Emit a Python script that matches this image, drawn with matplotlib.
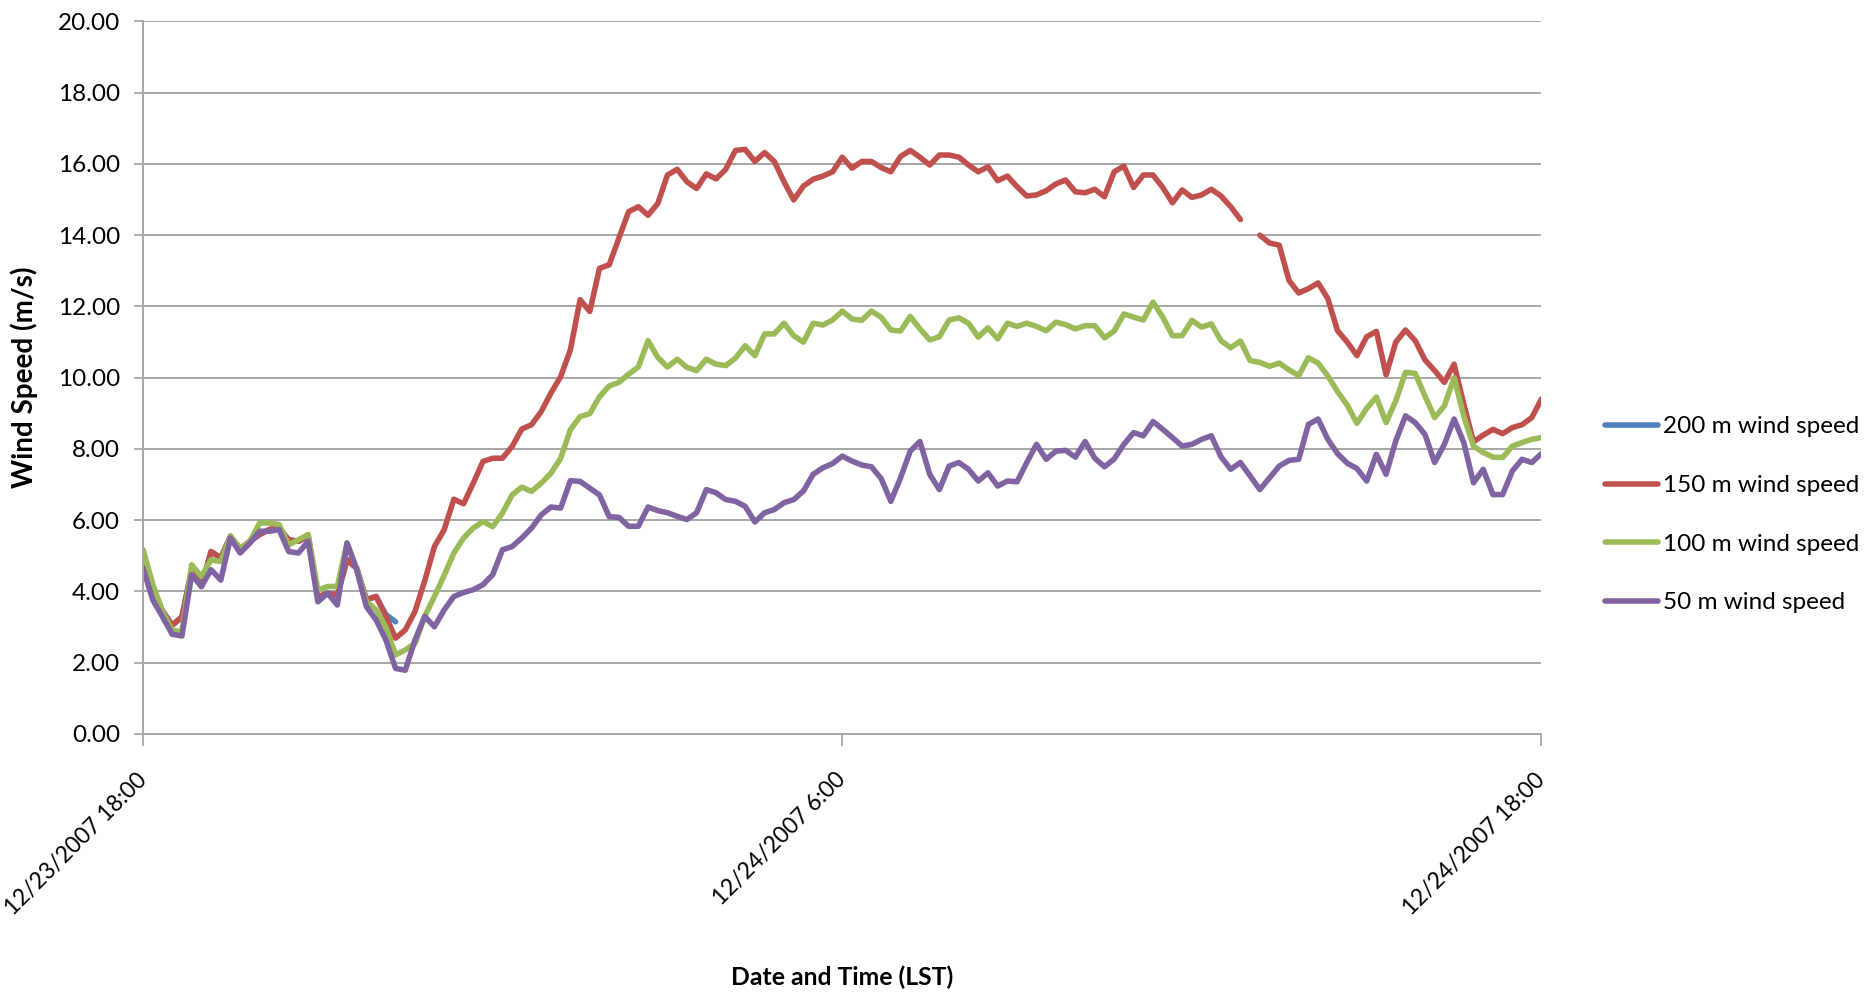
import numpy as np
import pandas as pd
import matplotlib
matplotlib.use("Agg")
import matplotlib.pyplot as plt

plt.rcParams["font.family"] = ["Lato", "DejaVu Sans"]

# 10-minute wind speeds (m/s), 12/23/2007 18:00 -> 12/24/2007 18:00 LST
times = pd.date_range("2007-12-23 18:00", "2007-12-24 18:00", freq="10min")

ws_200 = [4.85, 4.1, 3.45, 3.05, 3.29, 4.6, 4.14, 5.12, 4.94, 5.55,
          5.15, 5.41, 5.6, 5.74, 5.78, 5.45, 5.41, 5.55, 3.85, 3.95,
          3.9, 4.89, 4.65, 3.77, 3.86, 3.35, 3.15]

ws_150 = [4.85, 4.1, 3.45, 3.05, 3.29, 4.6, 4.14, 5.12, 4.94, 5.55,
          5.15, 5.41, 5.6, 5.74, 5.78, 5.45, 5.41, 5.55, 3.85, 3.95,
          3.9, 4.89, 4.65, 3.77, 3.86, 3.3, 2.69, 2.92, 3.44, 4.3,
          5.26, 5.73, 6.59, 6.46, 7.04, 7.65, 7.74, 7.74, 8.07, 8.56,
          8.68, 9.05, 9.57, 10.03, 10.78, 12.19, 11.86, 13.07, 13.17, 13.92,
          14.66, 14.8, 14.56, 14.89, 15.69, 15.85, 15.5, 15.31, 15.72, 15.58,
          15.85, 16.38, 16.41, 16.07, 16.32, 16.07, 15.5, 14.99, 15.38, 15.57,
          15.66, 15.78, 16.19, 15.88, 16.07, 16.07, 15.9, 15.78, 16.21, 16.38,
          16.19, 15.97, 16.25, 16.25, 16.19, 15.97, 15.78, 15.92, 15.53, 15.66,
          15.36, 15.1, 15.13, 15.25, 15.44, 15.55, 15.22, 15.19, 15.29, 15.08,
          15.78, 15.94, 15.34, 15.69, 15.69, 15.34, 14.91, 15.27, 15.06, 15.13,
          15.29, 15.1, 14.8, 14.44, np.nan, 14.0, 13.78, 13.72, 12.73, 12.38,
          12.5, 12.66, 12.22, 11.32, 11.0, 10.62, 11.15, 11.3, 10.08, 11.0,
          11.34, 11.04, 10.5, 10.2, 9.87, 10.38, 9.26, 8.2, 8.39, 8.55,
          8.43, 8.6, 8.68, 8.88, 9.4]

ws_100 = [5.17, 4.2, 3.43, 2.91, 2.87, 4.75, 4.42, 4.89, 4.84, 5.55,
          5.22, 5.41, 5.92, 5.92, 5.88, 5.31, 5.45, 5.6, 4.04, 4.14,
          4.14, 5.36, 4.65, 3.72, 3.48, 3.0, 2.22, 2.36, 2.54, 3.3,
          3.86, 4.45, 5.08, 5.5, 5.78, 5.96, 5.82, 6.2, 6.71, 6.93,
          6.81, 7.04, 7.32, 7.74, 8.54, 8.91, 8.99, 9.47, 9.77, 9.87,
          10.1, 10.3, 11.04, 10.57, 10.3, 10.52, 10.29, 10.2, 10.52, 10.38,
          10.34, 10.55, 10.9, 10.62, 11.23, 11.23, 11.53, 11.18, 11.0, 11.53,
          11.48, 11.62, 11.87, 11.65, 11.61, 11.87, 11.7, 11.34, 11.31, 11.72,
          11.37, 11.06, 11.15, 11.62, 11.68, 11.53, 11.14, 11.4, 11.09, 11.53,
          11.44, 11.53, 11.44, 11.32, 11.56, 11.49, 11.37, 11.46, 11.46, 11.12,
          11.31, 11.79, 11.7, 11.62, 12.12, 11.7, 11.18, 11.18, 11.61, 11.42,
          11.51, 11.04, 10.84, 11.03, 10.48, 10.43, 10.32, 10.41, 10.22, 10.06,
          10.56, 10.41, 10.05, 9.61, 9.23, 8.72, 9.14, 9.46, 8.74, 9.35,
          10.15, 10.12, 9.49, 8.88, 9.21, 10.0, 8.92, 8.08, 7.9, 7.77,
          7.76, 8.08, 8.18, 8.27, 8.32]

ws_50 = [4.65, 3.76, 3.29, 2.8, 2.75, 4.47, 4.14, 4.61, 4.32, 5.5,
         5.08, 5.36, 5.69, 5.69, 5.74, 5.12, 5.08, 5.41, 3.71, 3.95,
         3.62, 5.36, 4.6, 3.57, 3.2, 2.64, 1.84, 1.79, 2.64, 3.3,
         3.01, 3.48, 3.86, 3.97, 4.05, 4.19, 4.47, 5.17, 5.26, 5.5,
         5.78, 6.15, 6.37, 6.34, 7.11, 7.09, 6.9, 6.71, 6.1, 6.08,
         5.83, 5.83, 6.37, 6.27, 6.21, 6.11, 6.02, 6.21, 6.86, 6.77,
         6.58, 6.53, 6.39, 5.95, 6.21, 6.3, 6.49, 6.58, 6.82, 7.29,
         7.47, 7.59, 7.8, 7.66, 7.55, 7.5, 7.17, 6.53, 7.19, 7.94,
         8.21, 7.29, 6.86, 7.52, 7.62, 7.43, 7.1, 7.33, 6.96, 7.1,
         7.08, 7.62, 8.13, 7.71, 7.94, 7.96, 7.77, 8.21, 7.74, 7.5,
         7.72, 8.13, 8.46, 8.37, 8.77, 8.55, 8.32, 8.08, 8.13, 8.27,
         8.37, 7.78, 7.43, 7.62, 7.24, 6.86, 7.19, 7.52, 7.68, 7.71,
         8.69, 8.84, 8.27, 7.87, 7.6, 7.45, 7.1, 7.85, 7.29, 8.23,
         8.93, 8.74, 8.41, 7.62, 8.13, 8.84, 8.18, 7.05, 7.43, 6.72,
         6.72, 7.38, 7.71, 7.62, 7.87]

SERIES = [
    ("200 m wind speed", ws_200, "#4F81BD"),
    ("150 m wind speed", ws_150, "#C0504D"),
    ("100 m wind speed", ws_100, "#9BBB59"),
    ("50 m wind speed", ws_50, "#8064A2"),
]

tick_times = ["2007-12-23 18:00", "2007-12-24 06:00", "2007-12-24 18:00"]
tick_labels = ["12/23/2007 18:00", "12/24/2007 6:00", "12/24/2007 18:00"]

GRID = "#A6A6A6"

fig = plt.figure(figsize=(18.68, 9.97), dpi=100)
ax = fig.add_axes([0.0766, 0.2638, 0.7486, 0.7147])

for label, vals, color in SERIES:
    y = np.full(len(times), np.nan)
    y[:len(vals)] = vals
    ax.plot(times, y, color=color, linewidth=4.0, label=label,
            solid_joinstyle="round", solid_capstyle="round")

ax.set_xlim(times[0], times[-1])
ax.set_ylim(0, 20)
ax.set_yticks(np.arange(0, 20.01, 2))
ax.set_yticklabels([f"{v:.2f}" for v in np.arange(0, 20.01, 2)])
ax.set_xticks(pd.to_datetime(tick_times))
ax.set_xticklabels(tick_labels, rotation=45, ha="right", va="center",
                   rotation_mode="anchor")

ax.yaxis.grid(True, color=GRID, linewidth=1.4)
ax.set_axisbelow(True)
for side in ["top", "right"]:
    ax.spines[side].set_visible(False)
for side in ["left", "bottom"]:
    ax.spines[side].set_color(GRID)
    ax.spines[side].set_linewidth(1.4)

ax.tick_params(axis="y", length=6.5, width=1.3, color=GRID, pad=10,
               labelsize=17.5)
ax.tick_params(axis="x", length=8.5, width=1.3, color=GRID, pad=22,
               labelsize=16.5)

ax.set_ylabel("Wind Speed (m/s)", fontsize=20, fontweight="bold")
ax.yaxis.set_label_coords(-0.0755, 0.5)
ax.set_xlabel("Date and Time (LST)", fontsize=17.8, fontweight="bold")
ax.xaxis.set_label_coords(0.5, -0.325)

fig.legend(loc="center left", bbox_to_anchor=(0.859, 0.4835), frameon=False,
           fontsize=17.5, handlelength=2.2, handletextpad=0.2,
           labelspacing=1.55, borderpad=0, borderaxespad=0)

fig.savefig("out.png", dpi=100)
